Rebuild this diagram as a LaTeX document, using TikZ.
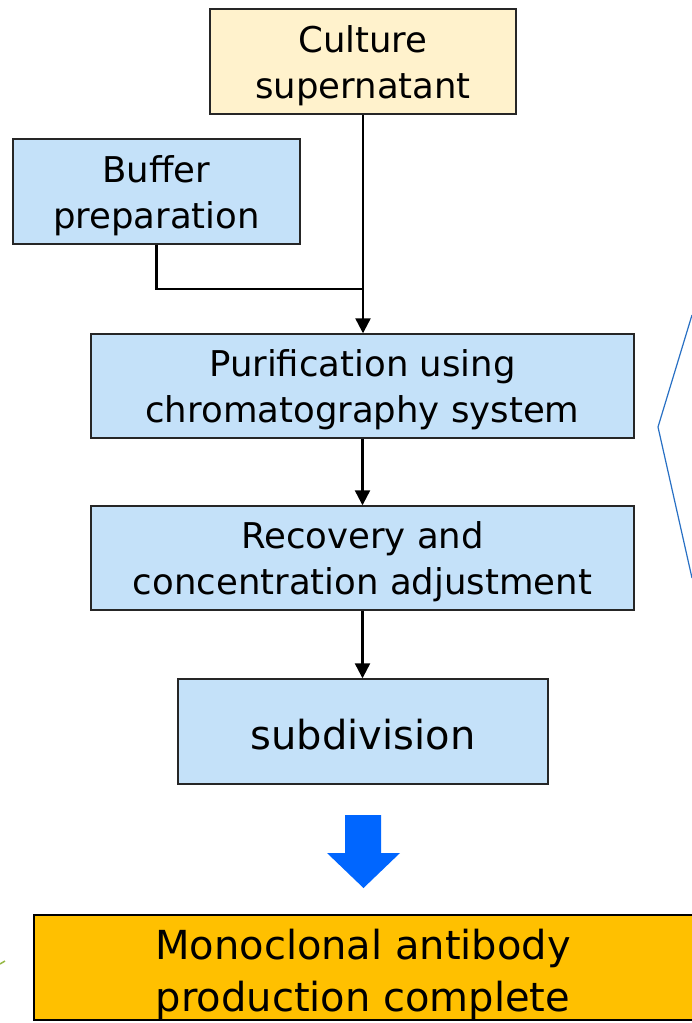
\documentclass[tikz,border=0pt]{standalone}
\usepackage{fontspec}
\setmainfont{DejaVu Sans}
\usetikzlibrary{arrows.meta}
\definecolor{paleblue}{RGB}{196,225,249}
\definecolor{paleyellow}{RGB}{255,242,204}
\definecolor{gold}{RGB}{255,192,0}
\definecolor{bigarrow}{RGB}{0,102,255}
\definecolor{calloutblue}{RGB}{40,112,196}
\definecolor{leafgreen}{RGB}{150,185,70}
\tikzset{
  stepbox/.style={draw=black!85, line width=1.4pt, fill=paleblue, inner sep=0pt},
  steptext/.style={inner sep=0pt, align=center, font=\fontsize{35.5}{46}\selectfont},
  bigtext/.style={inner sep=0pt, align=center, font=\fontsize{40}{52}\selectfont},
  flow/.style={line width=2.3pt, draw=black, -{Triangle[length=15pt,width=15pt]}},
  plainflow/.style={line width=2.3pt, draw=black},
}
\begin{document}
\begin{tikzpicture}[x=1pt,y=-1pt]
\useasboundingbox (0,0) rectangle (692,1023);
\clip (0,0) rectangle (692,1023);
\fill[white] (0,0) rectangle (692,1023);

% process boxes
\node[stepbox, fill=paleyellow, minimum width=306pt, minimum height=105pt] (cult) at (363,61.5) {};
\node[stepbox, minimum width=287pt, minimum height=105pt] (buf) at (156.5,191.5) {};
\node[stepbox, minimum width=543pt, minimum height=104pt] (pur) at (362.5,386) {};
\node[stepbox, minimum width=543pt, minimum height=104pt] (rec) at (362.5,558) {};
\node[stepbox, minimum width=370pt, minimum height=105pt] (sub) at (363,731.5) {};
\node[stepbox, fill=gold, draw=black, line width=2.6pt, minimum width=672pt, minimum height=105pt] (done) at (370,967.5) {};

% box texts
\node[steptext] (cultlabel) at ([yshift=-4pt]cult.center) {Culture\\supernatant};
\node[steptext] (buflabel) at ([yshift=-4pt]buf.center) {Buffer\\preparation};
\node[steptext] (purlabel) at ([yshift=-4pt]pur.center) {Purification using\\chromatography system};
\node[steptext] (reclabel) at ([yshift=-4pt]rec.center) {Recovery and\\concentration adjustment};
\node[bigtext] (sublabel) at ([yshift=-3pt]sub.center) {subdivision};
\node[bigtext] (donelabel) at (363,974) {Monoclonal antibody\\production complete};

% connectors
\coordinate (join) at (363,289);
\draw[flow] (cult.south) -- (cult.south |- pur.north);
\draw[plainflow] (buf.south) |- (join);
\draw[flow] (pur.south) -- (pur.south |- rec.north);
\draw[flow] (rec.south) -- (rec.south |- sub.north);

% large downward arrow
\fill[bigarrow] (345,815) -- (381,815) -- (381,853) -- (400,853) -- (363.5,888)
  -- (327,853) -- (345,853) -- cycle;

% callout edge on the right
\coordinate (ct) at (692,315);
\coordinate (cm) at (658,427);
\coordinate (cb) at (692,578);
\draw[calloutblue, line width=1.2pt, line join=round] (ct) -- (cm) -- (cb);

% small leaf tip at the left edge
\coordinate (la) at (0,964);
\coordinate (lb) at (5,961);
\draw[leafgreen, line width=1.5pt] (la) -- (lb);
\end{tikzpicture}
\end{document}
